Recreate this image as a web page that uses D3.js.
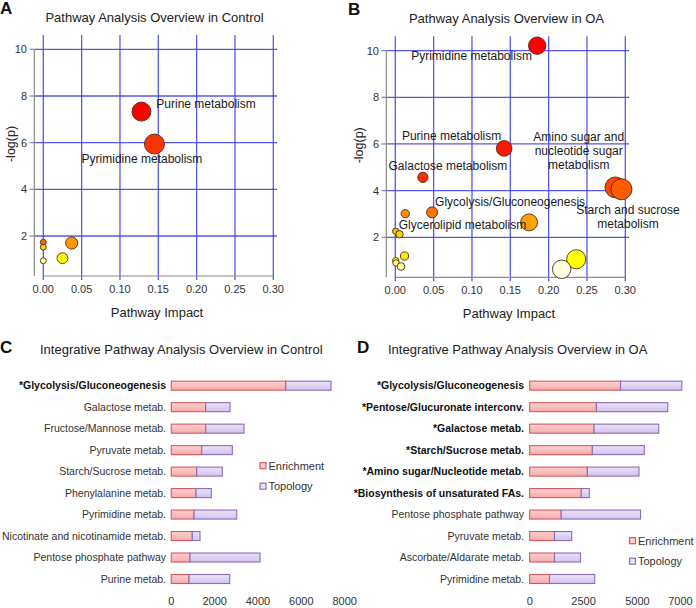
<!DOCTYPE html>
<html><head><meta charset="utf-8">
<script src="https://cdn.jsdelivr.net/npm/d3@7"></script>
<style>
body{margin:0;background:#fff}
text{font-family:"Liberation Sans",Arial,sans-serif}
</style>
</head><body>
<svg id="fig" width="696" height="608"></svg>
<script>
// ================= DATA =================
const impactTicks = [0, 0.05, 0.10, 0.15, 0.20, 0.25, 0.30];
const logpTicks = [2, 4, 6, 8, 10];

// Panel A – Control (ordered by -log(p), descending)
const ctrlNames  = ["Purine metabolism", "Pyrimidine metabolism", null, null, null, null, null];
const ctrlImpact = [0.128, 0.145, 0.000, 0.037, 0.000, 0.025, 0.000];
const ctrlLogP   = [7.33, 5.94, 1.73, 1.70, 1.52, 1.05, 0.94];

// Panel B – OA (ordered by -log(p), descending)
const oaNames  = ["Pyrimidine metabolism", "Purine metabolism", "Galactose metabolism",
  "Amino sugar and nucleotide sugar metabolism", "Starch and sucrose metabolism",
  "Glycolysis/Gluconeogenesis", "Glycerolipid metabolism",
  null, null, null, null, null, null, null, null, null];
const oaImpact = [0.185, 0.142, 0.036, 0.287, 0.295, 0.048, 0.013, 0.1745, 0.0005, 0.0055, 0.012, 0.236, 0.0005, 0.001, 0.0075, 0.217];
const oaLogP   = [10.21, 5.81, 4.57, 4.14, 4.06, 3.07, 3.01, 2.64, 2.26, 2.13, 1.20, 1.06, 1.00, 0.90, 0.75, 0.63];

// Panel C – Integrative, Control
const ctrlBarPathways = ["*Glycolysis/Gluconeogenesis", "Galactose metab.", "Fructose/Mannose metab.",
  "Pyruvate metab.", "Starch/Sucrose metab.", "Phenylalanine metab.", "Pyrimidine metab.",
  "Nicotinate and nicotinamide metab.", "Pentose phosphate pathway", "Purine metab."];
const ctrlEnrichment = [5280, 1587, 1587, 1403, 1172, 1140, 1048, 969, 863, 817];
const ctrlTopology   = [2090, 1122, 1768, 1412, 1181, 706, 1970, 355, 3230, 1878];
const ctrlTicks = [0, 2000, 4000, 6000, 8000];

// Panel D – Integrative, OA
const oaBarPathways = ["*Glycolysis/Gluconeogenesis", "*Pentose/Glucuronate interconv.", "*Galactose metab.",
  "*Starch/Sucrose metab.", "*Amino sugar/Nucleotide metab.", "*Biosynthesis of unsaturated FAs.",
  "Pentose phosphate pathway", "Pyruvate metab.", "Ascorbate/Aldarate metab.", "Pyrimidine metab."];
const oaEnrichment = [4215, 3095, 2987, 2908, 2675, 2395, 1462, 1151, 1151, 918];
const oaTopology   = [2845, 3312, 3004, 2412, 2397, 374, 3685, 801, 1206, 2101];
const oaTicks = [0, 2500, 5000, 7000];

const legendKeys = ["Enrichment", "Topology"];

// ================= LAYOUT / STYLE =================
const svg = d3.select("#fig");
const gridColor = "#3c3ce6";
const axisGray = "#8a8a8a";

// label offsets (px from bubble centre to text centre)
const ctrlLabelLayout = {
  "Purine metabolism": {dx: 64.6, dy: -7.7, lines: ["Purine metabolism"]},
  "Pyrimidine metabolism": {dx: -12.5, dy: 15, lines: ["Pyrimidine metabolism"]}
};
const oaLabelLayout = {
  "Pyrimidine metabolism": {dx: -65.6, dy: 10.2, lines: ["Pyrimidine metabolism"]},
  "Purine metabolism": {dx: -52.6, dy: -12.7, lines: ["Purine metabolism"]},
  "Galactose metabolism": {dx: 25, dy: -11.7, lines: ["Galactose metabolism"]},
  "Amino sugar and nucleotide sugar metabolism": {dx: -36.6, dy: -50.7, lines: ["Amino sugar and", "nucleotide sugar", "metabolism"]},
  "Starch and sucrose metabolism": {dx: 6.5, dy: 20.7, lines: ["Starch and sucrose", "metabolism"]},
  "Glycolysis/Gluconeogenesis": {dx: 78, dy: -10.7, lines: ["Glycolysis/Gluconeogenesis"]},
  "Glycerolipid metabolism": {dx: 57.2, dy: 11.2, lines: ["Glycerolipid metabolism"]}
};

// R's heat.colors(n)
function heatColors(n) {
  const j = Math.floor(n / 4), i = n - j, out = [];
  for (let k = 0; k < i; k++) {
    const h = i > 1 ? (k / (i - 1)) * 60 : 0;
    out.push(d3.hsl(h, 1, 0.5).formatHex());
  }
  for (let k = 0; k < j; k++) {
    const s = j > 1 ? (1 - 1 / (2 * j)) + k * ((1 / (2 * j)) - (1 - 1 / (2 * j))) / (j - 1) : 0.5;
    out.push(d3.hsl(60, 1, 1 - s / 2).formatHex());
  }
  return out;
}

function panelLetter(x, y, t) {
  svg.append("text").attr("x", x).attr("y", y).text(t)
    .attr("font-size", 17).attr("font-weight", "bold").attr("fill", "#111");
}

function drawScatter(ox, oy, title, names, impact, logp, layout, rmax, ylabX) {
  const g = svg.append("g").attr("transform", `translate(${ox},${oy})`);
  const x = d3.scaleLinear().domain([0, 0.30]).range([43.3, 273.3]);
  const y = d3.scaleLinear().domain([0, 10]).range([282.7, 49.3]);
  const r = d3.scalePow().exponent(0.6).domain([0, d3.max(impact)]).range([3, rmax]);
  const colors = heatColors(impact.length);

  g.append("text").attr("x", 154.5).attr("y", 21.5).attr("text-anchor", "middle")
    .attr("font-size", 13).attr("fill", "#222").text(title);

  // grid
  g.selectAll(".vg").data(impactTicks).join("line")
    .attr("x1", d => x(d)).attr("x2", d => x(d)).attr("y1", 35).attr("y2", 280)
    .attr("stroke", gridColor).attr("stroke-width", 1.3).attr("opacity", 0.85);
  g.selectAll(".hg").data(logpTicks).join("line")
    .attr("x1", 34.3).attr("x2", 277).attr("y1", d => y(d)).attr("y2", d => y(d))
    .attr("stroke", gridColor).attr("stroke-width", 1.3).attr("opacity", 0.85);

  // axes (gray)
  g.append("line").attr("x1", 34.3).attr("x2", 34.3).attr("y1", y(10)).attr("y2", 276)
    .attr("stroke", axisGray).attr("stroke-width", 1.2);
  g.selectAll(".yt").data(logpTicks).join("line")
    .attr("x1", 29.5).attr("x2", 34.3).attr("y1", d => y(d)).attr("y2", d => y(d))
    .attr("stroke", axisGray).attr("stroke-width", 1.2);
  g.selectAll(".yl").data(logpTicks).join("text")
    .attr("x", 27).attr("y", d => y(d) + 4).attr("text-anchor", "end")
    .attr("font-size", 11).attr("fill", "#333").text(d => d);
  g.append("line").attr("x1", x(0)).attr("x2", x(0.30)).attr("y1", 276).attr("y2", 276)
    .attr("stroke", axisGray).attr("stroke-width", 1.2);
  g.selectAll(".xl").data(impactTicks).join("text")
    .attr("x", d => x(d)).attr("y", 292.7).attr("text-anchor", "middle")
    .attr("font-size", 11).attr("fill", "#333").text(d => d3.format(".2f")(d));

  g.append("text").attr("x", 157).attr("y", 316.5).attr("text-anchor", "middle")
    .attr("font-size", 13).attr("fill", "#222").text("Pathway Impact");
  g.append("text").attr("transform", `translate(${ylabX},144) rotate(-90)`)
    .attr("text-anchor", "middle").attr("font-size", 12.5).attr("fill", "#222").text("-log(p)");

  // bubbles
  const pts = impact.map((v, i) => ({name: names[i], ix: v, ly: logp[i], c: colors[i]}));
  g.selectAll(".pt").data(pts).join("circle")
    .attr("cx", d => x(d.ix)).attr("cy", d => y(d.ly)).attr("r", d => r(d.ix))
    .attr("fill", d => d.c).attr("stroke", "#4a2e1c").attr("stroke-width", 0.9);

  // labels
  pts.filter(d => d.name && layout[d.name]).forEach(d => {
    const L = layout[d.name];
    const cx = x(d.ix) + L.dx, cy = y(d.ly) + L.dy;
    L.lines.forEach((t, k) => {
      g.append("text").attr("x", cx).attr("y", cy + 4.2 + k * 14.2)
        .attr("text-anchor", "middle").attr("font-size", 12).attr("fill", "#1a1a1a").text(t);
    });
  });
}

function drawBars(ox, title, titleX, pathways, enrich, topo, ticks, xRange, boldCount, legendPos, labelX) {
  const g = svg.append("g").attr("transform", `translate(${ox},0)`);
  g.append("text").attr("x", titleX).attr("y", 353.5).attr("font-size", 13).attr("fill", "#222").text(title);

  const table = pathways.map((p, i) => ({pathway: p, Enrichment: enrich[i], Topology: topo[i]}));
  const series = d3.stack().keys(legendKeys)(table);
  const x = d3.scaleLinear().domain([0, ticks[ticks.length - 1]]).range(xRange);
  const y = d3.scaleBand().domain(pathways).range([374.96, 589.74]).paddingInner(0.58).paddingOuter(0.29);

  const defs = svg.append("defs");
  const styles = {
    Enrichment: {top: "#fcd2d2", bot: "#f5aaaa", stroke: "#d65a5a"},
    Topology: {top: "#ebe2f8", bot: "#d3c1ee", stroke: "#8e6cb9"}
  };
  legendKeys.forEach(k => {
    const gr = defs.append("linearGradient").attr("id", `gr${ox}${k}`).attr("x1", 0).attr("x2", 0).attr("y1", 0).attr("y2", 1);
    gr.append("stop").attr("offset", "0%").attr("stop-color", styles[k].top);
    gr.append("stop").attr("offset", "100%").attr("stop-color", styles[k].bot);
  });

  series.forEach(s => {
    g.selectAll(null).data(s).join("rect")
      .attr("x", d => x(d[0])).attr("width", d => x(d[1]) - x(d[0]))
      .attr("y", d => y(d.data.pathway)).attr("height", y.bandwidth())
      .attr("fill", `url(#gr${ox}${s.key})`).attr("stroke", styles[s.key].stroke).attr("stroke-width", 1.1);
  });

  g.selectAll(".lab").data(pathways).join("text")
    .attr("x", labelX).attr("y", d => y(d) + y.bandwidth() / 2 + 3.7)
    .attr("text-anchor", "end").attr("font-size", 10.5)
    .attr("font-weight", (d, i) => i < boldCount ? "bold" : "normal")
    .attr("fill", (d, i) => i < boldCount ? "#111" : "#333").text(d => d);

  g.selectAll(".tk").data(ticks).join("text")
    .attr("x", d => x(d)).attr("y", 605).attr("text-anchor", "middle")
    .attr("font-size", 11).attr("fill", "#333").text(d => d);

  legendKeys.forEach((k, i) => {
    const ly = legendPos[1] + i * 20.5;
    g.append("rect").attr("x", legendPos[0]).attr("y", ly - 3).attr("width", 6).attr("height", 6)
      .attr("fill", styles[k].top).attr("stroke", styles[k].stroke).attr("stroke-width", 1.2);
    g.append("text").attr("x", legendPos[0] + 8.5).attr("y", ly + 4).attr("font-size", 11)
      .attr("fill", "#333").text(k);
  });
}

// ================= DRAW =================
drawScatter(0, 0, "Pathway Analysis Overview in Control", ctrlNames, ctrlImpact, ctrlLogP, ctrlLabelLayout, 10, 14.5);
drawScatter(352, 1.3, "Pathway Analysis Overview in OA", oaNames, oaImpact, oaLogP, oaLabelLayout, 10.5, 10.5);
panelLetter(0, 14, "A");
panelLetter(348, 15, "B");

drawBars(0, "Integrative Pathway Analysis Overview in Control", 40, ctrlBarPathways, ctrlEnrichment, ctrlTopology,
  ctrlTicks, [171.3, 344.7], 1, [260, 465.7], 166);
drawBars(348, "Integrative Pathway Analysis Overview in OA", 40, oaBarPathways, oaEnrichment, oaTopology,
  oaTicks, [181.7, 332.5], 6, [281.5, 540.7], 176);
panelLetter(0, 353, "C");
panelLetter(357, 353, "D");
</script>
</body></html>
